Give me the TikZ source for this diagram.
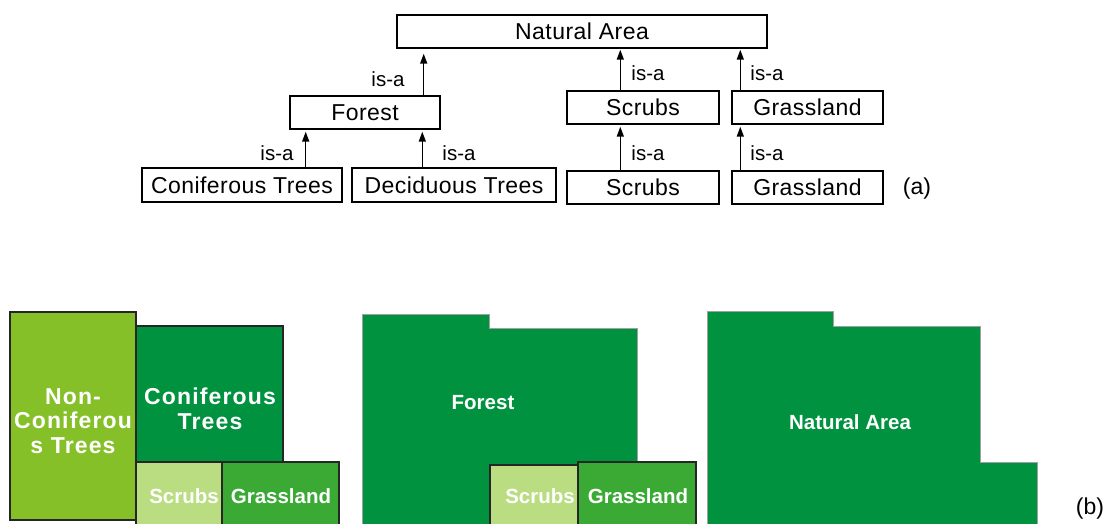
\documentclass[tikz,border=0pt]{standalone}
\usepackage{fontspec}
\setmainfont{Liberation Sans}
\usetikzlibrary{arrows.meta}
\definecolor{dkgreen}{RGB}{0,146,63}
\definecolor{ltgreen}{RGB}{133,192,41}
\definecolor{scrubgreen}{RGB}{185,221,128}
\definecolor{grassgreen}{RGB}{58,170,53}
\definecolor{edgegray}{RGB}{160,160,160}
\tikzset{
  box/.style={draw=black, line width=1.4pt, fill=white, inner sep=0pt,
    minimum height=33pt, font=\fontsize{23}{27}\selectfont\addfontfeature{LetterSpace=2}},
  isa/.style={-{Triangle[length=10pt,width=7pt]}, line width=1.5pt, shorten >=2pt},
  lbl/.style={inner sep=0pt, font=\fontsize{20.5}{24}\selectfont},
  tag/.style={inner sep=0pt, font=\fontsize{23}{27}\selectfont},
  wtext/.style={inner sep=0pt, text=white, align=center,
    font=\fontsize{20.5}{24}\selectfont\bfseries},
  spaced/.style={font=\fontsize{23}{24.5}\selectfont\bfseries\addfontfeature{LetterSpace=5}},
  patch/.style={line width=1.1pt, draw=black!85},
  region/.style={fill=dkgreen, draw=edgegray, line width=0.6pt}
}
\begin{document}
\begin{tikzpicture}[x=1pt, y=-1pt]
\useasboundingbox (0,0) rectangle (1114,524);

% ---------- (a) is-a hierarchy ----------
\node[box, minimum width=370pt] (nat) at (582,31.5) {Natural Area};
\node[box, minimum width=150pt] (forest) at (365,112.5) {Forest};
\node[box, minimum width=200pt, minimum height=34pt] (conif) at (242,185) {Coniferous Trees};
\node[box, minimum width=204pt, minimum height=34pt] (decid) at (454,185) {Deciduous Trees};
\node[box, minimum width=152pt] (scrubA) at (643,107.5) {Scrubs};
\node[box, minimum width=151pt] (grassA) at (807.5,107.5) {Grassland};
\node[box, minimum width=152pt] (scrubB) at (643,187.5) {Scrubs};
\node[box, minimum width=151pt] (grassB) at (807.5,187.5) {Grassland};

\draw[isa, shorten >=5pt] ([xshift=-17pt]forest.north east) -- ([xshift=-17pt]forest.north east |- nat.south);
\draw[isa] ([xshift=-37pt]conif.north east) -- ([xshift=-37pt]conif.north east |- forest.south);
\draw[isa] ([xshift=71pt]decid.north west) -- ([xshift=71pt]decid.north west |- forest.south);
\draw[isa, shorten >=1pt] ([xshift=54pt]scrubA.north west) -- ([xshift=54pt]scrubA.north west |- nat.south);
\draw[isa, shorten >=1pt] ([xshift=9pt]grassA.north west) -- ([xshift=9pt]grassA.north west |- nat.south);
\draw[isa] ([xshift=54pt]scrubB.north west) -- ([xshift=54pt]scrubB.north west |- scrubA.south);
\draw[isa] ([xshift=9pt]grassB.north west) -- ([xshift=9pt]grassB.north west |- grassA.south);

\node[lbl] (l1) at (388,79) {is-a};
\node[lbl] (l2) at (277,153) {is-a};
\node[lbl] (l3) at (459,153) {is-a};
\node[lbl] (l4) at (648,73) {is-a};
\node[lbl] (l5) at (767,73) {is-a};
\node[lbl] (l6) at (648,153) {is-a};
\node[lbl] (l7) at (767,153) {is-a};

\node[tag] (taga) at (917,189) {(a)};

% ---------- (b) map regions ----------
% left map: four land-cover classes
\path[patch, fill=ltgreen] (10,312) rectangle (136,520);
\path[patch, fill=dkgreen] (136,326) rectangle (283,462);
\path[patch, fill=scrubgreen] (136,462) rectangle (222,527);
\path[patch, fill=grassgreen] (222,462) rectangle (339,527);
\node[wtext, spaced] (nonconif) at (73,421) {Non-\\Coniferou\\s Trees};
\node[wtext, spaced] (conifB) at (210,409) {Coniferous\\Trees};
\node[wtext] (scrubC) at (184,496) {Scrubs};
\node[wtext] (grassC) at (281,496) {Grassland};

% middle map: trees merged into Forest
\path[region] (362,314) -- (489,314) -- (489,328) -- (637,328) -- (637,465)
  -- (490,465) -- (490,527) -- (362,527) -- cycle;
\path[patch, fill=scrubgreen] (490,465) rectangle (578,527);
\path[patch, fill=grassgreen] (578,462) rectangle (696,527);
\node[wtext] (forestB) at (483,403) {Forest};
\node[wtext] (scrubD) at (540,496) {Scrubs};
\node[wtext] (grassD) at (638,496) {Grassland};

% right map: everything merged into Natural Area
\path[region] (707,311) -- (833,311) -- (833,326) -- (980,326) -- (980,462)
  -- (1037,462) -- (1037,527) -- (707,527) -- cycle;
\node[wtext] (natB) at (850,422) {Natural Area};

\node[tag] (tagb) at (1090,509) {(b)};
\end{tikzpicture}
\end{document}
